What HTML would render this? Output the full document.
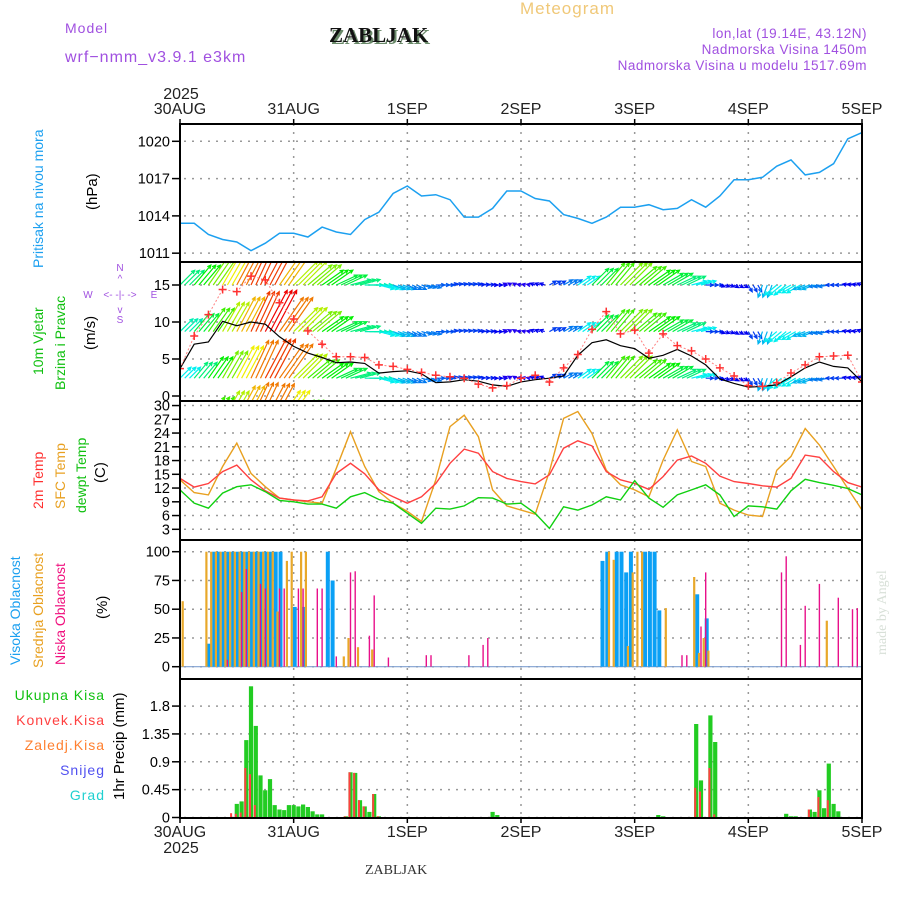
<!DOCTYPE html>
<html><head><meta charset="utf-8"><style>
html,body{margin:0;padding:0;background:#fff;}
svg{display:block;font-family:"Liberation Sans",sans-serif;}
</style></head><body>
<svg id="chart" width="900" height="900" viewBox="0 0 900 900" xmlns="http://www.w3.org/2000/svg">
<defs>
<clipPath id="c1"><rect x="180" y="124" width="682" height="138"/></clipPath>
<clipPath id="c2"><rect x="181" y="263" width="680" height="137"/></clipPath>
<clipPath id="c3"><rect x="180" y="401" width="682" height="139"/></clipPath>
<clipPath id="c4"><rect x="180" y="540" width="682" height="139"/></clipPath>
<clipPath id="c5"><rect x="180" y="679" width="682" height="139"/></clipPath>
</defs>
<text x="520" y="14" font-size="17" fill="#f0c878" letter-spacing="1">Meteogram</text>
<text x="65" y="33" font-size="14" fill="#a050e0" letter-spacing="1">Model</text>
<text x="65" y="62" font-size="16" fill="#a050e0" letter-spacing="1">wrf−nmm_v3.9.1 e3km</text>
<text x="331" y="44" font-size="21" font-weight="bold" font-family="Liberation Serif,serif" fill="#6a8a6a">ZABLJAK</text>
<text x="329" y="42" font-size="21" font-weight="bold" font-family="Liberation Serif,serif" fill="#111">ZABLJAK</text>
<text x="867" y="38" font-size="13.5" fill="#a050e0" text-anchor="end" letter-spacing="0.5">lon,lat (19.14E, 43.12N)</text>
<text x="867" y="54" font-size="13.5" fill="#a050e0" text-anchor="end" letter-spacing="0.5">Nadmorska Visina 1450m</text>
<text x="867" y="70" font-size="13.5" fill="#a050e0" text-anchor="end" letter-spacing="0.5">Nadmorska Visina u modelu 1517.69m</text>
<text x="181" y="99" font-size="16" text-anchor="middle" fill="#222">2025</text>
<text x="181" y="853" font-size="16" text-anchor="middle" fill="#222">2025</text>
<text x="365" y="874" font-size="14" font-family="Liberation Serif,serif" fill="#333">ZABLJAK</text>
<text transform="translate(886,655) rotate(-90)" font-size="14" font-family="Liberation Serif,serif" fill="#d8e0d8">made by Angel</text>

<g>
<text transform="translate(43,268) rotate(-90)" font-size="14" fill="#1ca0f0">Pritisak na nivou mora</text>
<text transform="translate(97,210) rotate(-90)" font-size="15" fill="#000">(hPa)</text>
<text transform="translate(43,375) rotate(-90)" font-size="14" fill="#10c010">10m Vjetar</text>
<text transform="translate(65,390) rotate(-90)" font-size="14" fill="#10c010">Brzina i Pravac</text>
<text transform="translate(95,350) rotate(-90)" font-size="15" fill="#000">(m/s)</text>
<text x="120" y="271" font-size="10" fill="#a050e0" text-anchor="middle">N</text>
<text x="120" y="282" font-size="10" fill="#a050e0" text-anchor="middle">^</text>
<text x="120" y="298" font-size="10" fill="#a050e0" text-anchor="middle">&lt;- -|- -&gt;</text>
<text x="88" y="298" font-size="10" fill="#a050e0" text-anchor="middle">W</text>
<text x="154" y="298" font-size="10" fill="#a050e0" text-anchor="middle">E</text>
<text x="120" y="313" font-size="10" fill="#a050e0" text-anchor="middle">v</text>
<text x="120" y="323" font-size="10" fill="#a050e0" text-anchor="middle">S</text>
<text transform="translate(43,509) rotate(-90)" font-size="14" fill="#ff3030">2m Temp</text>
<text transform="translate(65,509) rotate(-90)" font-size="14" fill="#e8a020">SFC Temp</text>
<text transform="translate(86,513) rotate(-90)" font-size="14" fill="#10c010">dewpt Temp</text>
<text transform="translate(105,483) rotate(-90)" font-size="15" fill="#000">(C)</text>
<text transform="translate(20,665) rotate(-90)" font-size="14" fill="#1ca0f0">Visoka Oblacnost</text>
<text transform="translate(43,668) rotate(-90)" font-size="14" fill="#e8a020">Srednja Oblacnost</text>
<text transform="translate(65,665) rotate(-90)" font-size="14" fill="#f0107e">Niska Oblacnost</text>
<text transform="translate(107,619) rotate(-90)" font-size="15" fill="#000">(%)</text>
<text x="105" y="700" font-size="14" fill="#10c010" text-anchor="end" letter-spacing="1">Ukupna  Kisa</text>
<text x="105" y="725" font-size="14" fill="#ff4040" text-anchor="end" letter-spacing="1">Konvek.Kisa</text>
<text x="105" y="750" font-size="14" fill="#ff8030" text-anchor="end" letter-spacing="1">Zaledj.Kisa</text>
<text x="105" y="775" font-size="14" fill="#5050f0" text-anchor="end" letter-spacing="1">Snijeg</text>
<text x="105" y="800" font-size="14" fill="#20d0d0" text-anchor="end" letter-spacing="1">Grad</text>
<text transform="translate(124,800) rotate(-90)" font-size="15" fill="#000">1hr Precip (mm)</text>
</g>
<g id="grid"></g>
<g id="marks"></g>
<g id="frames"></g>
</svg>
<script>
// ---- data (3-hourly unless noted, hours 0..144) ----
const dayLabels = ["30AUG","31AUG","1SEP","2SEP","3SEP","4SEP","5SEP"];
const pressureTicks = [1011,1014,1017,1020];
const windTicks = [0,5,10,15];
const tempTicks = [3,6,9,12,15,18,21,24,27,30];
const cloudTicks = [0,25,50,75,100];
const precipTicks = [0,0.45,0.9,1.35,1.8];
const precipTickLabels = ["0","0.45","0.9","1.35","1.8"];

const pressure = [1013.4,1013.4,1012.5,1012.1,1011.9,1011.2,1011.8,1012.6,1012.6,1012.3,1013.1,1012.7,1012.5,1013.7,1014.3,1015.8,1016.4,1015.6,1015.7,1015.3,1013.9,1013.9,1014.6,1016.0,1016.0,1015.4,1015.2,1014.1,1013.8,1013.4,1013.9,1014.7,1014.7,1014.9,1014.5,1014.6,1015.3,1014.7,1015.6,1016.9,1016.9,1017.1,1018.0,1018.5,1017.3,1017.5,1018.2,1020.2,1020.7];
const temp2m = [14.1,12.2,13.0,15.6,17.0,13.8,11.4,9.8,9.4,9.2,10.1,15.2,17.4,15.1,11.6,10.1,8.7,10.1,13.0,17.4,20.5,19.6,15.6,14.1,13.4,12.9,14.9,20.7,22.3,21.2,15.6,13.8,13.0,11.7,14.5,18.1,19.0,17.4,14.6,13.4,13.0,12.5,12.2,14.1,19.2,18.7,15.6,13.2,12.2];
const tempSfc = [13.8,11.0,10.5,16.7,21.8,15.2,12.3,9.8,9.4,9.0,8.7,16.3,24.3,16.7,11.2,8.7,6.9,4.7,13.8,25.4,27.9,23.2,11.6,8.1,7.2,6.3,15.6,27.2,28.7,23.9,15.9,12.7,11.6,10.1,18.1,24.7,17.8,16.7,8.7,7.2,6.1,5.8,15.9,18.9,25.0,21.4,16.7,11.9,7.2];
const dewpoint = [11.6,8.7,7.6,10.9,12.3,12.7,11.2,9.3,9.0,8.5,8.5,7.6,10.1,11.0,9.5,8.7,6.5,4.3,7.6,7.4,8.1,9.9,9.8,8.5,8.7,6.5,3.2,7.9,7.2,8.3,10.1,9.4,13.6,9.8,7.8,10.5,11.6,12.7,10.5,5.8,8.1,7.9,7.4,11.4,13.9,13.2,12.6,11.9,10.5];
const windSpeed = [3.7,7.0,7.3,10.1,9.5,10.0,9.7,8.0,6.7,5.8,5.2,4.5,4.6,4.4,3.1,3.3,3.4,3.0,1.8,1.9,2.2,2.0,1.5,1.3,1.9,2.2,2.4,2.7,5.5,7.2,7.6,6.8,6.4,5.1,5.5,6.3,5.4,4.2,2.3,1.7,1.2,1.3,1.5,2.6,3.8,4.6,4.0,3.8,1.9];
const windGust = [3.7,8.1,11.0,14.4,14.1,16.2,15.7,12.6,10.4,8.8,7.0,5.3,5.3,5.2,4.2,4.0,3.6,3.2,2.8,2.6,2.4,1.6,1.1,1.4,2.4,2.8,1.9,3.8,5.6,9.0,11.4,8.4,8.9,5.8,8.4,6.8,6.1,5.0,3.8,2.7,1.4,1.3,1.8,3.1,4.2,5.3,5.4,5.5,1.9];
const windDir = [45,50,55,60,62,65,62,55,45,40,35,25,15,0,-15,-20,-25,-15,0,10,10,5,0,150,170,160,30,30,35,45,50,45,40,35,30,25,15,0,-20,-30,-60,-110,-140,-150,-160,-170,180,170,160];
const spdLevel1 = [8,10,12,14,16,17,17,15,13,12,10,9,8,7,6,5,4,4,3.5,3,3,2.5,2,1.5,1.5,2,3,4,6,9,11,12,11,10,9,8,6,3,2,2,3,5,6,6,5,4,3,2,2];
const spdLevel2 = [7,9,11,13,15,17,18,16,13,12,10,9,8,7,6,5,4,4,3.5,3,3,2.5,2,1.5,1.5,2,3,4,6,9,11,12,11,10,9,8,6,3,2,2,3,5,6,6,5,4,3,2,2];
const spdLevel3 = [6,8,10,12,14,16,17,16,13,11,10,9,8,7,6,5,4,4,3.5,3,3,2.5,2,1.5,1.5,2,3,4,6,9,11,12,11,10,9,8,6,3,2,2,3,5,6,6,5,4,3,2,2];
const spdLevel4 = [5,8,11,13,15,16,16,14,11,9,7,5,4,3,2,2,2,2,2,2,2,2,2,1,1,2,2,3,4,5,6,6,5,5,4,4,3,2,2,2,2,3,3,3,3,3,2,2,2];
const levelBase = [15,8.7,2.4,-3.3];

// hourly cloud bars
const highH = [6,7,8,9,10,11,12,13,14,15,16,17,18,19,20,21,24,26,31,32,89,90,92,93,94,95,98,99,100,101,109,111];
const highV = [20,100,100,100,100,100,100,100,100,100,100,100,100,100,100,100,52,52,100,75,92,100,100,100,82,100,100,100,100,49,63,42];
const midH = [1,6,7,8,9,10,11,12,13,14,15,16,17,18,19,20,21,23,24,26,27,35,36,38,41,91,92,95,96,97,98,103,109,110,111,112,137];
const midV = [57,100,100,100,100,100,100,100,100,100,100,100,100,100,100,100,48,92,100,100,100,9,25,17,15,100,93,18,82,100,100,51,78,12,25,14,40];
const lowH = [10,13,14,17,18,21,22,25,26,29,30,33,36,37,40,41,44,52,53,61,64,65,106,107,110,111,127,128,131,132,135,139,142,143];
const lowV = [6,65,85,72,68,68,68,68,68,68,68,9,82,83,27,62,8,10,10,10,19,25,10,10,35,82,82,96,19,53,72,60,50,51];
// hourly precipitation
const totH = [12,13,14,15,16,17,18,19,20,21,22,23,24,25,26,27,28,29,30,35,36,37,38,39,40,41,42,66,67,101,102,109,110,112,113,128,129,130,133,134,135,136,137,138,139];
const totV = [0.22,0.26,1.25,2.12,1.48,0.68,0.44,0.62,0.2,0.13,0.12,0.2,0.2,0.18,0.21,0.17,0.10,0.05,0.05,0.02,0.73,0.72,0.28,0.18,0.09,0.38,0.02,0.09,0.04,0.04,0.02,1.51,0.60,1.65,1.22,0.06,0.02,0.02,0.13,0.09,0.44,0.15,0.87,0.22,0.10];
const convH = [11,12,13,14,15,16,35,36,37,38,39,41,42,109,110,112,113,133,135,137];
const convV = [0.07,0.06,0.08,0.8,0.7,0.2,0.02,0.73,0.72,0.28,0.18,0.38,0.02,0.48,0.42,0.8,0.05,0.13,0.33,0.28];

// ---- scales ----
const X0 = 180, X1 = 862, HOURS = 144;
function xH(h){ return X0 + h*(X1-X0)/HOURS; }
function yP(p){ return 141.3 + (1020-p)*12.43; }
function yW(v){ return 396 - v*7.4; }
function yT(t){ return 529.3 - (t-3)*4.583; }
function yC(c){ return 666.7 - c*1.15; }
function yR(r){ return 817.5 - r*61.9; }
const panels = [[124,262],[262,401],[401,540],[540,679],[679,818]];

const NS = "http://www.w3.org/2000/svg";
function mk(tag, attrs, parent){
  const e = document.createElementNS(NS, tag);
  for (const k in attrs) e.setAttribute(k, attrs[k]);
  parent.appendChild(e);
  return e;
}
const grid = document.getElementById("grid");
const marks = document.getElementById("marks");
const frames = document.getElementById("frames");

// vertical day gridlines + labels
dayLabels.forEach((lab, i) => {
  const x = xH(i*24);
  if (i>0 && i<dayLabels.length-1) {
    const gl = mk("line", {x1:x, x2:x, y1:124, y2:818, stroke:"#999", "stroke-width":1.5, "stroke-dasharray":"2,6"}, grid);
    
    
  }
  const t1 = mk("text", {x:x, y:114, "font-size":16, "text-anchor":"middle", fill:"#222"}, grid);
  t1.textContent = lab;
  
  
  const t2 = mk("text", {x:x, y:837, "font-size":16, "text-anchor":"middle", fill:"#222"}, grid);
  t2.textContent = lab;
  
  
  [124,818].forEach(yy => {
    const tk = mk("line", {x1:x, x2:x, y1:yy-(yy===124?5:-5), y2:yy, stroke:"#000", "stroke-width":1.5}, grid);
    
    
  });
});

function yAxis(ticks, labels, fn, name){
  ticks.forEach((v, i) => {
    const y = fn(v);
    const gl = mk("line", {x1:184, x2:862, y1:y, y2:y, stroke:"#999", "stroke-width":1.5, "stroke-dasharray":"2,6"}, grid);
    
    
    const tk = mk("line", {x1:172, x2:180, y1:y, y2:y, stroke:"#000", "stroke-width":1.5}, grid);
    
    
    const t = mk("text", {x:170, y:y+5, "font-size":14.5, "text-anchor":"end", fill:"#000"}, grid);
    t.textContent = labels[i];
    
    
  });
}
yAxis(pressureTicks, pressureTicks.map(String), yP, "pressure");
yAxis(windTicks, windTicks.map(String), yW, "wind");
yAxis(tempTicks, tempTicks.map(String), yT, "temp");
yAxis(cloudTicks, cloudTicks.map(String), yC, "cloud");
yAxis(precipTicks, precipTickLabels, yR, "precip");

function linePath(arr, fn){
  return arr.map((v,i) => (i?"L":"M") + xH(i*3).toFixed(1) + "," + fn(v).toFixed(1)).join("");
}
// pressure
const pl = mk("path", {d:linePath(pressure, yP), fill:"none", stroke:"#1ca0f0", "stroke-width":1.5, "clip-path":"url(#c1)"}, marks);



// wind arrows
const gW = mk("g", {"clip-path":"url(#c2)"}, marks);


const levels = [spdLevel1, spdLevel2, spdLevel3, spdLevel4];
const K = 2.6;
levels.forEach((spd, li) => {
  const by = yW(levelBase[li]);
  spd.forEach((s, i) => {
    const a = windDir[i]*Math.PI/180;
    const hue = 270 - s*15;
    const col = "hsl(" + hue + ",100%,47%)";
    for (let r = 0; r < 3; r++) {
      const bx = xH(i*3 + r);
      if (bx > X1) continue;
      const tx = bx + Math.cos(a)*s*K, ty = by - Math.sin(a)*s*K;
      const ah = Math.atan2(ty-by, tx-bx);
      const hl = 4;
      const d = "M"+bx.toFixed(1)+","+by.toFixed(1)+"L"+tx.toFixed(1)+","+ty.toFixed(1)+
        "M"+(tx-hl*Math.cos(ah-0.45)).toFixed(1)+","+(ty-hl*Math.sin(ah-0.45)).toFixed(1)+"L"+tx.toFixed(1)+","+ty.toFixed(1)+
        "L"+(tx-hl*Math.cos(ah+0.45)).toFixed(1)+","+(ty-hl*Math.sin(ah+0.45)).toFixed(1);
      const p = mk("path", {d:d, fill:"none", stroke:col, "stroke-width":1.2}, gW);
      
      
    }
  });
});
const ws = mk("path", {d:linePath(windSpeed, yW), fill:"none", stroke:"#000", "stroke-width":1.2, "clip-path":"url(#c2)"}, marks);


const wg = mk("path", {d:linePath(windGust, yW), fill:"none", stroke:"#ff8080", "stroke-width":1, "stroke-dasharray":"2,2", "clip-path":"url(#c2)"}, marks);


windGust.forEach((g, i) => {
  const x = xH(i*3), y = yW(g);
  const m = mk("path", {d:"M"+(x-4)+","+y+"h8M"+x+","+(y-4)+"v8", stroke:"#ff3030", "stroke-width":1.5, "clip-path":"url(#c2)"}, marks);
  
  
});

// temperatures
[[tempSfc,"#e8a020","sfc-temp-line"],[temp2m,"#ff4040","temp-2m-line"],[dewpoint,"#10d010","dewpoint-line"]].forEach(s => {
  const p = mk("path", {d:linePath(s[0], yT), fill:"none", stroke:s[1], "stroke-width":1.4, "clip-path":"url(#c3)"}, marks);
  
  
});

// cloud base line
const cb = mk("line", {x1:180, x2:862, y1:yC(0), y2:yC(0), stroke:"#80a0d0", "stroke-width":1.2}, marks);


function bars(H, V, fn, dx, w, col, name, clip){
  H.forEach((h, i) => {
    const x = xH(h) + dx, y = fn(V[i]), y0 = fn(0);
    const r = mk("rect", {x:(x-w/2).toFixed(1), y:y.toFixed(1), width:w, height:Math.max(0,y0-y).toFixed(1), fill:col, "clip-path":clip}, marks);
    
    
  });
}
bars(highH, highV, yC, 1, 4, "#0aa0f5", "high-cloud-bar", "url(#c4)");
bars(midH, midV, yC, -2, 2.2, "#e8a82a", "mid-cloud-bar", "url(#c4)");
bars(lowH, lowV, yC, 0, 1.4, "#e8108a", "low-cloud-bar", "url(#c4)");
bars(totH, totV, yR, 0, 4.2, "#22cc22", "total-precip-bar", "url(#c5)");
bars(convH, convV, yR, -1, 2, "#ff4040", "convective-precip-bar", "url(#c5)");

// frames
panels.forEach((p, i) => {
  const r = mk("rect", {x:180, y:p[0], width:682, height:p[1]-p[0], fill:"none", stroke:"#000", "stroke-width":2}, frames);
  
  
});
</script>
</body></html>
